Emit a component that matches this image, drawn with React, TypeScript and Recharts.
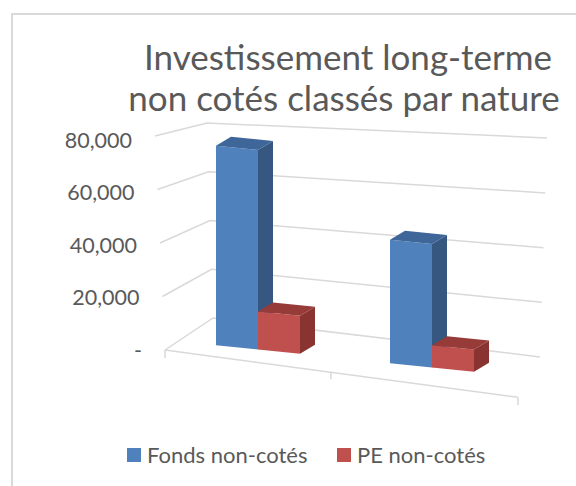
import { Bar, BarChart, CartesianGrid, Legend, XAxis, YAxis } from "recharts";

const categories = ["Catégorie 1", "Catégorie 2"];
const fondsNonCotes = [76000, 47000];
const peNonCotes = [14500, 8500];
const yTicks = [0, 20000, 40000, 60000, 80000];

const seriesInfo = [
  { key: "fonds", name: "Fonds non-cotés", front: "#4f81bd", side: "#36577f", top: "#3f6699" },
  { key: "pe", name: "PE non-cotés", front: "#c0504d", side: "#8a3432", top: "#973b39" },
];

const data = categories.map((c, i) => ({ cat: c, fonds: fondsNonCotes[i], pe: peNonCotes[i] }));

const Y_MAX = 80000;
const PLOT_TOP = 140;
const PLOT_BOTTOM = 350;
const TEXT = "#595959";
const GRID = "#d9d9d9";
const FONT = "Lato, 'Open Sans', sans-serif";

// perspective tilt of the front plane
const tilt = (x: number) => 0.1034 * (x - 263);
const DX = 15;
const DY = -9;

function Box3D(props: any) {
  const { x, y, width: w, height: h, front, side, top } = props;
  if (w == null || h == null) return null;
  const oL = tilt(x);
  const oR = tilt(x + w);
  const pts = (a: number[][]) => a.map((p) => p.join(",")).join(" ");
  return (
    <g>
      <polygon
        points={pts([[x, y + oL], [x + w, y + oR], [x + w, y + h + oR], [x, y + h + oL]])}
        fill={front}
      />
      <polygon
        points={pts([[x + w, y + oR], [x + w + DX, y + oR + DY], [x + w + DX, y + h + oR + DY], [x + w, y + h + oR]])}
        fill={side}
      />
      <polygon
        points={pts([[x, y + oL], [x + DX, y + oL + DY], [x + w + DX, y + oR + DY], [x + w, y + oR]])}
        fill={top}
      />
    </g>
  );
}

function WallLine(p: any) {
  const { x1, x2, y1, index } = p;
  const t = (PLOT_BOTTOM - y1) / (PLOT_BOTTOM - PLOT_TOP);
  const fx = x1 - 6 - 10 * t;
  const fy = y1 - 4 * t;
  const bx = x1 + 42 - 6 * t;
  const by = fy - 32 + 19 * t;
  const rx = x1 + 369 + 7 * t;
  const ry = by + (0.119 - 0.075 * t) * (rx - bx);
  let floor = null;
  if (t < 0.01) {
    const ex = x2 - 1;
    const ey = fy + 0.134 * (ex - fx);
    const mx = fx + 0.47 * (ex - fx);
    const my = fy + 0.134 * (mx - fx);
    floor = (
      <path
        d={`M${fx},${fy} L${ex},${ey} M${fx},${fy} L${fx},${fy + 8} M${mx},${my} L${mx},${my + 7} M${ex},${ey} L${ex},${ey + 8}`}
        stroke={GRID}
        strokeWidth={1.5}
        fill="none"
      />
    );
  }
  return (
    <g key={`wall-${index}`}>
      <path d={`M${fx},${fy} L${bx},${by} L${rx},${ry}`} stroke={GRID} strokeWidth={1.5} fill="none" />
      {floor}
    </g>
  );
}

function YTick(props: any) {
  const { x, y, payload } = props;
  const v = payload.value as number;
  const t = v / Y_MAX;
  return (
    <text x={x - 10 * t} y={y} dy="0.35em" textAnchor="end" fill={TEXT} fontSize={21.5} fontFamily={FONT}>
      {v === 0 ? "-" : v.toLocaleString("en-US")}
    </text>
  );
}

function LegendContent() {
  return (
    <div style={{ position: "relative", width: 576, height: 30, fontFamily: FONT, fontSize: 22, color: TEXT }}>
      {seriesInfo.map((s, i) => (
        <div
          key={s.key}
          style={{ position: "absolute", left: i === 0 ? 127 : 337, top: 0, display: "flex", alignItems: "center", whiteSpace: "nowrap" }}
        >
          <span style={{ display: "inline-block", width: 14, height: 14, background: s.front, marginRight: 6 }} />
          <span>{s.name}</span>
        </div>
      ))}
    </div>
  );
}

export default function App() {
  return (
    <div style={{ position: "absolute", left: 0, top: 0, width: 576, height: 486, background: "#fff", overflow: "hidden" }}>
      <div
        style={{
          position: "absolute",
          left: 11,
          top: 13,
          width: 576,
          height: 486,
          borderLeft: `2px solid ${GRID}`,
          borderTop: `2px solid ${GRID}`,
        }}
      />
      <svg width={576} height={130} style={{ position: "absolute", left: 0, top: 0 }}>
        <text x={348} y={70} textAnchor="middle" fill={TEXT} fontSize={35} fontFamily={FONT}>
          Investissement long-terme
        </text>
        <text x={344} y={111} textAnchor="middle" fill={TEXT} fontSize={35} fontFamily={FONT}>
          non cotés classés par nature
        </text>
      </svg>
      <div style={{ position: "absolute", left: 0, top: 0 }}>
        <BarChart
          width={576}
          height={486}
          data={data}
          margin={{ top: PLOT_TOP, right: 57, bottom: 486 - PLOT_BOTTOM, left: 71 }}
          barGap={0}
          barCategoryGap={45}
        >
          <CartesianGrid vertical={false} horizontal={WallLine} />
          <XAxis dataKey="cat" hide />
          <YAxis
            domain={[0, Y_MAX]}
            ticks={yTicks}
            width={100}
            axisLine={false}
            tickLine={false}
            tickSize={6}
            tickMargin={23}
            tick={YTick}
          />
          <Legend
            layout="horizontal"
            verticalAlign="middle"
            wrapperStyle={{ top: 441, left: 0, width: 576 }}
            content={LegendContent}
          />
          {seriesInfo.map((s) => (
            <Bar
              key={s.key}
              dataKey={s.key}
              name={s.name}
              fill={s.front}
              isAnimationActive={false}
              shape={(p: any) => <Box3D {...p} front={s.front} side={s.side} top={s.top} />}
            />
          ))}
        </BarChart>
      </div>
    </div>
  );
}
